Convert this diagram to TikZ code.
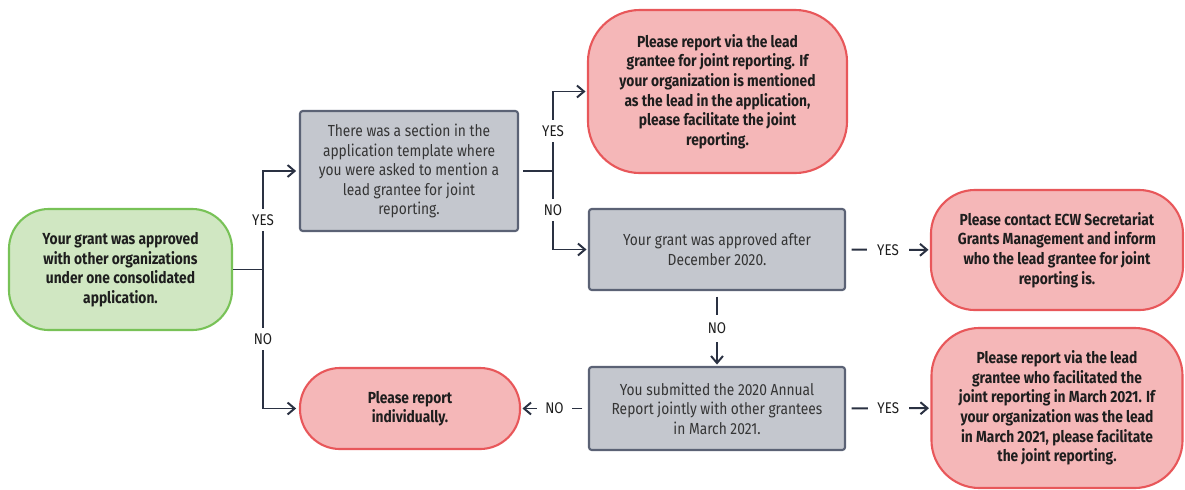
\documentclass[tikz,border=0pt]{standalone}
\usepackage{fontspec}
\usepackage{xcolor}
\usepackage{tikz}
\usetikzlibrary{arrows.meta}
\setmainfont{Fira Sans}[FakeStretch=0.86]

\definecolor{startfill}{HTML}{D0E7C2}
\definecolor{startline}{HTML}{78C257}
\definecolor{endfill}{HTML}{F5B7B8}
\definecolor{endline}{HTML}{E8575A}
\definecolor{askfill}{HTML}{C4C7CE}
\definecolor{askline}{HTML}{5B6275}
\definecolor{flowclr}{HTML}{2A3142}
\definecolor{txtclr}{HTML}{1E1E1E}

\tikzstyle{startbox} = [draw=startline, fill=startfill, line width=1.5pt,
rectangle, rounded corners=1cm, inner sep=0pt, align=center,
text=txtclr, font=\fontsize{11.4}{13.9}\selectfont\bfseries]
\tikzstyle{endbox} = [draw=endline, fill=endfill, line width=1.5pt,
rectangle, inner sep=0pt, align=center,
text=txtclr, font=\fontsize{11.4}{13.9}\selectfont\bfseries]
\tikzstyle{askbox} = [draw=askline, fill=askfill, line width=1.5pt,
rectangle, rounded corners=2pt, inner sep=0pt, align=center,
text=txtclr!90, font=\fontsize{11.4}{13.9}\selectfont]
\tikzstyle{flowline} = [draw=flowclr, line width=1.4pt]
\tikzstyle{flowarrow} = [flowline, -{Straight Barb[length=5pt, width=8.5pt]}]
\tikzstyle{answer} = [fill=white, text=txtclr, inner xsep=7pt, inner ysep=4pt,
font=\fontsize{11}{13.7}\selectfont]

\begin{document}
\begin{tikzpicture}[x=0.025cm, y=-0.025cm]
    \useasboundingbox (0,0) rectangle (1185,489);

    \node [startbox, minimum width=5.575cm, minimum height=3.025cm] (start) at (120.5,269.5)
        {Your grant was approved\\with other organizations\\under one consolidated\\application.};
    \node [askbox, minimum width=5.45cm, minimum height=3.0cm] (section) at (409,171)
        {There was a section in the\\application template where\\you were asked to mention a\\lead grantee for joint\\reporting.};
    \node [endbox, rounded corners=1.3cm, minimum width=6.475cm, minimum height=4.075cm] (vialead) at (717.5,91.5)
        {Please report via the lead\\grantee for joint reporting. If\\your organization is mentioned\\as the lead in the application,\\please facilitate the joint\\reporting.};
    \node [askbox, minimum width=6.4cm, minimum height=2.025cm] (after) at (717,249.5)
        {Your grant was approved after\\December 2020.};
    \node [endbox, rounded corners=1.1cm, minimum width=6.3cm, minimum height=3.0cm] (contact) at (1057,250)
        {Please contact ECW Secretariat\\Grants Management and inform\\who the lead grantee for joint\\reporting is.};
    \node [askbox, minimum width=6.4cm, minimum height=2.075cm] (submitted) at (717,408.5)
        {You submitted the 2020 Annual\\Report jointly with other grantees\\in March 2021.};
    \node [endbox, rounded corners=1cm, minimum width=5.5cm, minimum height=2.025cm] (single) at (410,408.5)
        {Please report\\individually.};
    \node [endbox, rounded corners=1.2cm, minimum width=6.275cm, minimum height=4.0cm] (viamarch) at (1057,408)
        {Please report via the lead\\grantee who facilitated the\\joint reporting in March 2021. If\\your organization was the lead\\in March 2021, please facilitate\\the joint reporting.};

    \coordinate (fork1) at (263,269.5);
    \coordinate (fork2) at (553,171);

    \draw [flowline] (start) -- (fork1);
    \draw [flowarrow, shorten >=2pt] (fork1) |- node [answer, pos=0.25] {YES} (section);
    \draw [flowarrow, shorten >=2pt] (fork1) |- node [answer, pos=0.25] {NO} (single);

    \draw [flowline, shorten <=3pt] (section) -- (fork2);
    \draw [flowarrow, shorten >=1pt] (fork2) |- node [answer, pos=0.25] {YES} (vialead);
    \draw [flowarrow, shorten >=1pt] (fork2) |- node [answer, pos=0.25] {NO} (after);

    \draw [flowarrow, shorten <=4pt, shorten >=1pt] (after) -- node [answer] {YES} (contact);
    \draw [flowarrow, shorten <=4pt, shorten >=1pt] (after) -- node [answer, inner xsep=3pt, inner ysep=6pt] {NO} (submitted);
    \draw [flowarrow, shorten <=4pt, shorten >=1pt] (submitted) -- node [answer] {YES} (viamarch);
    \draw [flowarrow, shorten <=4pt, shorten >=1pt] (submitted) -- node [answer, inner xsep=6pt] {NO} (single);
\end{tikzpicture}
\end{document}
